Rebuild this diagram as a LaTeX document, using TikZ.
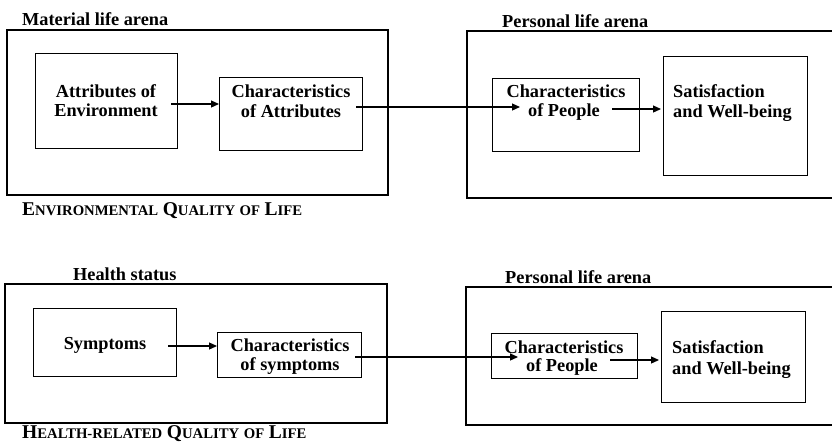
\documentclass[tikz,border=0pt]{standalone}
\usepackage{fontspec}
\setmainfont{Liberation Serif}
\usetikzlibrary{arrows.meta}
\begin{document}
\begin{tikzpicture}[x=1pt,y=-1pt,
  outerbox/.style={draw,line width=1.8pt},
  innerbox/.style={draw,line width=1.1pt},
  txt/.style={font=\bfseries\fontsize{18.3}{20}\selectfont,inner sep=0pt,anchor=base},
  ttl/.style={font=\bfseries\fontsize{18.3}{20}\selectfont,inner sep=0pt,anchor=base west},
  conn/.style={line width=1.2pt,-{Triangle[length=8pt,width=7pt]}}]
\useasboundingbox (0,0) rectangle (832,445);
\clip (0,0) rectangle (832,445);
\fill[white] (0,0) rectangle (832,445);
\newcommand{\qsc}[2]{{\fontsize{19.5}{20}\selectfont #1}{\fontsize{14.7}{20}\selectfont #2}}
% ---------------- top row ----------------
\node[ttl] (t1) at (22,25) {Material life arena};
\draw[outerbox] (7,30) rectangle (388,195);
\node[innerbox,anchor=north west,minimum width=142pt,minimum height=95pt] (attr) at (35,53) {};
\node[txt] (attrA) at (106,97) {Attributes of};
\node[txt] (attrB) at (106,116) {Environment};
\node[innerbox,anchor=north west,minimum width=143pt,minimum height=73pt] (chat) at (219,77) {};
\node[txt] (chatA) at (291,97) {Characteristics};
\node[txt] (chatB) at (291,117) {of Attributes};
\node[ttl] (q1) at (22,215) {\qsc{E}{NVIRONMENTAL} \qsc{Q}{UALITY} \qsc{}{OF} \qsc{L}{IFE}};

\node[ttl] (t2) at (502,27) {Personal life arena};
\draw[outerbox] (467,31) rectangle (840,198);
\node[innerbox,anchor=north west,minimum width=147pt,minimum height=73pt] (cpe) at (492,78) {};
\node[txt] (cpeA) at (566,97) {Characteristics};
\node[txt] (cpeB) at (564,116) {of People};
\node[innerbox,anchor=north west,minimum width=144pt,minimum height=119pt] (sat) at (663,56) {};
\node[ttl] (satA) at (673,97) {Satisfaction};
\node[ttl] (satB) at (673,117) {and Well-being};

\coordinate (a1s) at (171,104);
\coordinate (a1e) at (219,104);
\coordinate (a2s) at (356,107);
\coordinate (a2e) at (520,107);
\coordinate (a3s) at (612,109);
\coordinate (a3e) at (661,109);
\draw[conn] (a1s) -- (a1e);
\draw[conn] (a2s) -- (a2e);
\draw[conn] (a3s) -- (a3e);

% ---------------- bottom row ----------------
\node[ttl] (t3) at (73,280) {Health status};
\draw[outerbox] (5,284) rectangle (387,423);
\node[innerbox,anchor=north west,minimum width=143pt,minimum height=68pt] (sym) at (33,308) {};
\node[txt] (symA) at (105,349) {Symptoms};
\node[innerbox,anchor=north west,minimum width=144pt,minimum height=45pt] (csy) at (217,332) {};
\node[txt] (csyA) at (290,351) {Characteristics};
\node[txt] (csyB) at (290,370) {of symptoms};
\node[ttl] (q2) at (22,438) {\qsc{H}{EALTH-RELATED} \qsc{Q}{UALITY} \qsc{}{OF} \qsc{L}{IFE}};

\node[ttl] (t4) at (505,283) {Personal life arena};
\draw[outerbox] (466,287) rectangle (840,425);
\node[innerbox,anchor=north west,minimum width=146pt,minimum height=45pt] (cpe2) at (491,333) {};
\node[txt] (cpe2A) at (564,353) {Characteristics};
\node[txt] (cpe2B) at (562,371) {of People};
\node[innerbox,anchor=north west,minimum width=144pt,minimum height=91pt] (sat2) at (661,311) {};
\node[ttl] (sat2A) at (672,353) {Satisfaction};
\node[ttl] (sat2B) at (672,374) {and Well-being};

\coordinate (b1s) at (168,346);
\coordinate (b1e) at (217,346);
\coordinate (b2s) at (355,357);
\coordinate (b2e) at (518,357);
\coordinate (b3s) at (610,360);
\coordinate (b3e) at (659,360);
\draw[conn] (b1s) -- (b1e);
\draw[conn] (b2s) -- (b2e);
\draw[conn] (b3s) -- (b3e);
\end{tikzpicture}
\end{document}
